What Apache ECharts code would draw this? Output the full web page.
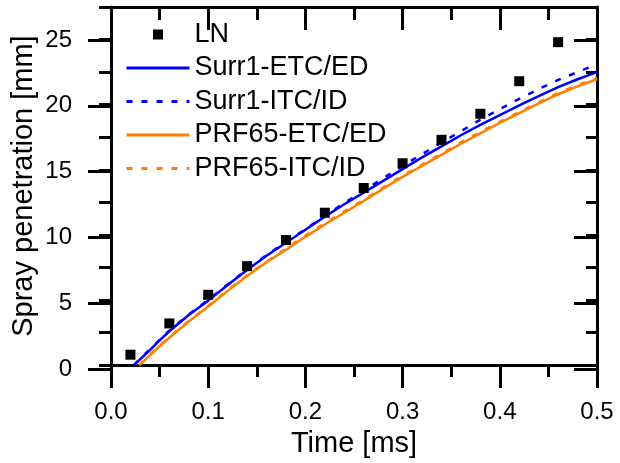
<!DOCTYPE html>
<html>
<head>
<meta charset="utf-8">
<script src="https://cdn.jsdelivr.net/npm/echarts@6/dist/echarts.min.js"></script>
<style>html,body{margin:0;padding:0;background:#fff;}#chart{width:620px;height:463px;}</style>
</head>
<body>
<div id="chart"></div>
<script>
// ---- Data ----
const timeLN = [0.02, 0.06, 0.10, 0.14, 0.18, 0.22, 0.26, 0.30, 0.34, 0.38, 0.42, 0.46];
const penLN  = [0.8, 3.2, 5.4, 7.6, 9.6, 11.7, 13.6, 15.5, 17.3, 19.3, 21.8, 24.8];

const timeSurr1 = [0.0235, 0.03, 0.04, 0.05, 0.06, 0.08, 0.10, 0.12, 0.14, 0.16, 0.18, 0.20, 0.22, 0.24, 0.26, 0.28, 0.30, 0.32, 0.34, 0.36, 0.38, 0.40, 0.42, 0.44, 0.46, 0.48, 0.50];
const penSurr1ETC = [0, 0.45, 1.15, 1.9, 2.6, 3.85, 4.95, 6.15, 7.3, 8.4, 9.4, 10.4, 11.4, 12.35, 13.25, 14.15, 15.05, 15.95, 16.8, 17.65, 18.45, 19.2, 19.95, 20.65, 21.35, 21.95, 22.5];
const penSurr1ITC = [0, 0.5, 1.2, 1.95, 2.65, 3.9, 5.0, 6.2, 7.35, 8.45, 9.45, 10.45, 11.45, 12.45, 13.4, 14.35, 15.3, 16.2, 17.1, 17.95, 18.85, 19.65, 20.45, 21.2, 21.9, 22.5, 23.1];

const timePRF65 = [0.029, 0.04, 0.05, 0.06, 0.08, 0.10, 0.12, 0.14, 0.16, 0.18, 0.20, 0.22, 0.24, 0.26, 0.28, 0.30, 0.32, 0.34, 0.36, 0.38, 0.40, 0.42, 0.44, 0.46, 0.48, 0.50];
const penPRF65ETC = [0, 0.75, 1.45, 2.1, 3.35, 4.5, 5.7, 6.85, 7.9, 8.85, 9.85, 10.8, 11.7, 12.6, 13.55, 14.45, 15.3, 16.15, 17.0, 17.8, 18.6, 19.35, 20.1, 20.8, 21.4, 21.95];
const penPRF65ITC = [0, 0.8, 1.5, 2.15, 3.4, 4.55, 5.75, 6.9, 7.95, 8.95, 9.95, 10.9, 11.8, 12.7, 13.65, 14.55, 15.4, 16.25, 17.1, 17.9, 18.7, 19.45, 20.2, 20.9, 21.5, 22.05];

const seriesNames = ['LN', 'Surr1-ETC/ED', 'Surr1-ITC/ID', 'PRF65-ETC/ED', 'PRF65-ITC/ID'];
const xTitle = 'Time [ms]';
const yTitle = 'Spray penetration [mm]';

// ---- Chart ----
const FONT = 'Liberation Sans, Arial, sans-serif';
const BLUE = '#0000ff';
const ORANGE = '#ff8000';
const AX = { color: '#000', width: 3 };
const zip = (xs, ys) => xs.map((x, i) => [x, ys[i]]);

const chart = echarts.init(document.getElementById('chart'), null, { renderer: 'canvas' });
const gridPos = { left: 111, right: 23, bottom: 94 };

const legendData = seriesNames.map((n, i) => i === 0
  ? { name: n, icon: 'path://M0,0L10,0L10,10L0,10Z', itemStyle: { opacity: 1, color: '#000' } }
  : { name: n, itemStyle: { opacity: 0 } });

const option = {
  animation: false,
  backgroundColor: '#fff',
  textStyle: { fontFamily: FONT, color: '#000' },
  grid: [
    Object.assign({ top: 7 }, gridPos),
    Object.assign({ top: 40 }, gridPos)
  ],
  legend: {
    orient: 'vertical', left: 125, top: 21, padding: 0,
    itemWidth: 63, itemHeight: 10, itemGap: 6.5, symbolKeepAspect: true,
    lineStyle: { width: 3 },
    textStyle: { fontSize: 27, fontFamily: FONT, color: '#000' },
    data: legendData
  },
  xAxis: [
    { type: 'value', gridIndex: 0, position: 'bottom', min: 0, max: 0.5, interval: 0.1,
      name: xTitle, nameLocation: 'middle', nameGap: 56,
      nameTextStyle: { fontSize: 29, fontFamily: FONT, color: '#000' },
      axisLine: { show: true, onZero: false, lineStyle: AX },
      axisTick: { show: true, inside: false, length: 23, lineStyle: AX },
      minorTick: { show: true, splitNumber: 2, length: 12, lineStyle: AX },
      splitLine: { show: false },
      axisLabel: { fontSize: 24, margin: 35, color: '#000', fontFamily: FONT, formatter: v => v.toFixed(1) } },
    { type: 'value', gridIndex: 0, position: 'top', min: 0, max: 0.5, interval: 0.1,
      axisLine: { show: true, onZero: false, lineStyle: AX },
      axisTick: { show: true, inside: true, length: 23, lineStyle: AX },
      minorTick: { show: true, splitNumber: 2, length: 13, lineStyle: AX },
      splitLine: { show: false }, axisLabel: { show: false } },
    { type: 'value', gridIndex: 1, min: 0, max: 0.5, show: false }
  ],
  yAxis: [
    { type: 'value', gridIndex: 0, position: 'left', min: 0, max: 27.5, interval: 2.5,
      name: yTitle, nameLocation: 'middle', nameGap: 73,
      nameTextStyle: { fontSize: 29, fontFamily: FONT, color: '#000' },
      axisLine: { show: true, onZero: false, lineStyle: AX },
      axisTick: { show: true, inside: false, length: 12, lineStyle: AX },
      splitLine: { show: false }, axisLabel: { show: false } },
    { type: 'value', gridIndex: 0, position: 'right', min: 0, max: 27.5, interval: 2.5,
      axisLine: { show: true, onZero: false, lineStyle: AX },
      axisTick: { show: true, inside: true, length: 11, lineStyle: AX },
      splitLine: { show: false }, axisLabel: { show: false } },
    { type: 'value', gridIndex: 1, position: 'left', min: 0, max: 25, interval: 5,
      axisLine: { show: false },
      axisTick: { show: true, inside: false, length: 23, lineStyle: AX },
      splitLine: { show: false },
      axisLabel: { fontSize: 24, margin: 39, color: '#000', fontFamily: FONT } },
    { type: 'value', gridIndex: 1, position: 'right', min: 0, max: 25, interval: 5,
      axisLine: { show: false },
      axisTick: { show: true, inside: true, length: 23, lineStyle: AX },
      splitLine: { show: false }, axisLabel: { show: false } }
  ],
  series: [
    { name: seriesNames[1], type: 'line', xAxisIndex: 0, yAxisIndex: 0, symbol: 'none', showSymbol: false,
      data: zip(timeSurr1, penSurr1ETC), lineStyle: { color: BLUE, width: 2.5 }, itemStyle: { color: BLUE }, z: 3 },
    { name: seriesNames[2], type: 'line', xAxisIndex: 0, yAxisIndex: 0, symbol: 'none', showSymbol: false,
      data: zip(timeSurr1, penSurr1ITC), lineStyle: { color: BLUE, width: 2.5, type: [6, 9] }, itemStyle: { color: BLUE }, z: 3 },
    { name: seriesNames[3], type: 'line', xAxisIndex: 0, yAxisIndex: 0, symbol: 'none', showSymbol: false,
      data: zip(timePRF65, penPRF65ETC), lineStyle: { color: ORANGE, width: 2.5 }, itemStyle: { color: ORANGE }, z: 2 },
    { name: seriesNames[4], type: 'line', xAxisIndex: 0, yAxisIndex: 0, symbol: 'none', showSymbol: false,
      data: zip(timePRF65, penPRF65ITC), lineStyle: { color: ORANGE, width: 2.5, type: [6, 9] }, itemStyle: { color: ORANGE }, z: 2 },
    { name: seriesNames[0], type: 'scatter', xAxisIndex: 0, yAxisIndex: 0, symbol: 'rect', symbolSize: 10,
      data: zip(timeLN, penLN), itemStyle: { color: '#000', opacity: 1 }, z: 5 }
  ]
};
chart.setOption(option);
</script>
</body>
</html>
